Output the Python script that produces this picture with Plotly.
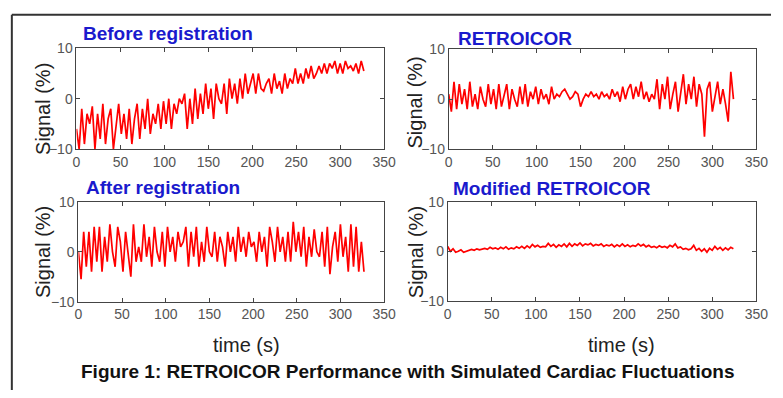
import plotly.graph_objects as go

# ---------------- data (~3 s sampling) ----------------
time_a = list(range(0, 330, 3))   # 0..327 s (panels 1 & 3)
time_b = list(range(0, 327, 3))   # 0..324 s (panels 2 & 4)

before_registration = [
    -6, -10, -2, -9, -3, -5, -1.5, -10, -3, -8, -1, -9, -4, -2, -10, -5, -1, -7, -3, -8,
    -2, -9, -4, -1, -8, -2, -6, 0, -7, -3, -5, -1, -6, -0.5, -5, 0, -6, -1, -3, 0,
    -1, 1, -6, 0, -5, 2, -4, 1, -3, 3, -2, 2, -4, 3, 0, -1, 3, -3, 4, 0,
    3, -1, 4, 0, 5, 1, 3, 5, 1, 5, 2, 1.5, 3, 4, 1, 5, 2, 3.5, 1, 5,
    2, 4, 3, 6, 3, 5, 3, 6, 4, 6.5, 4, 5, 6.5, 5, 7, 5, 7, 6, 7.5, 5,
    7, 5, 7.5, 6, 6.5, 5.5, 7, 5, 7.5, 5.5,
]

retroicor = [
    1, -2.5, 3.5, -2, 3, -1, 2, -2, 3.5, -1.5, 1, -2, 2.5, 0, -1.5, 3, -1, 2, -2, 3,
    -1.5, 1, 3, -2, 2, 0, -1.5, 2.5, -1, 3, -1.5, 1.5, 0, 2.5, -1, 2, 0, 1, -1, 2.5,
    0, 1, 0.5, 1.5, 2, 1, 0, 0.5, 1.5, 1, -1.5, 0, 1, 0.5, 1.5, 0.5, 1, 0, 1.5, 0.5,
    1, 0, 2, 0.5, 1.5, -0.5, 2.5, 0, 2, 3, 0, 2.5, 0.5, 3.5, 0, 1.5, -0.5, 1, 0, 4,
    -2, 3, 0, 4.5, -2, 1, 3.5, -2.5, 1, 5, -1, 3, 0, 4.5, -1.5, 3, 1, -7.5, 2, 3.5,
    -2.5, 1, 3.5, -1, 2, -1, -4.5, 5.5, 0,
]

after_registration = [
    0, -5.5, 4, -3, 4, -4, 5, -2, 5, -4, 3, -2, 5.5, 0, -3, 5, 2, -4, 4, 0,
    -5, 5.5, -2, 1, -2, 5.5, -1, 3, -3, 5, 0, -2, 4, -3, 5, 0, 3, -2, 4, 1,
    2, 5, -3, 4, -1, 5, -3, 2, -2, 5, 0, -1, 4, -2, 3, 1, -3, 4, 0, 3,
    -2, 5, 0, 3, -1, 4, 1, 2, -2, 4, 0, 3, -3, 5, 2, -2, 5, 0, 3, -2,
    4, -2, 6, 0, 4, -1, 5, -3, 3, -1, 4.5, 0, -1, 4, -3, 5, -4.5, 1, 4, -2,
    5.5, -1, 3, -4, 5.5, -3, 5, -4, 2, -4,
]

modified_retroicor = [
    1, 0, 0.5, -0.2, 0, 0.3, -0.2, 0, 0.2, 0.4, 0.2, 0.5, 0.3, 0.5, 0.6, 0.4, 0.8, 0.5, 0.7, 0.4,
    0.8, 0.5, 0.9, 0.4, 0.7, 0.5, 0.9, 0.6, 1.0, 0.6, 1.1, 0.7, 1.4, 0.9, 1.2, 0.8, 1.0, 0.9, 1.6, 1.0,
    1.4, 0.8, 1.3, 1.0, 1.5, 0.9, 1.6, 1.0, 1.5, 1.2, 1.7, 1.1, 1.5, 1.3, 1.6, 1.1, 1.4, 1.2, 1.5, 1.0,
    1.3, 1.1, 1.4, 0.9, 1.3, 1.0, 1.5, 1.0, 1.3, 0.9, 1.2, 1.0, 1.5, 1.1, 1.4, 0.9, 1.2, 0.8, 1.0, 0.7,
    1.1, 0.8, 1.0, 0.7, 1.2, 0.9, 1.5, 0.7, 0.9, 0.4, 0.6, 0.3, 0.5, 1.2, 0.2, 0.6, 0.0, 0.5, -0.2, 0.6,
    0.2, 1.0, 0.4, 0.8, 0.2, 0.7, 0.3, 0.8, 0.5,
]

panel_titles = ["Before registration", "RETROICOR", "After registration", "Modified RETROICOR"]
x_ticks = [0, 50, 100, 150, 200, 250, 300, 350]
y_ticks = [-10, 0, 10]
y_title = "Signal (%)"
x_title = "time (s)"
caption = "Figure 1: RETROICOR Performance with Simulated Cardiac Fluctuations"

# ---------------- layout helpers ----------------
W, H = 783, 398
def px(x):
    return x / W
def py(y):
    return 1 - y / H

# axes boxes in pixels: (left, right, top, bottom)
boxes = [(74, 388, 42, 147), (454, 768, 43, 147), (76, 388, 202, 306), (453, 768, 202, 305)]
series = [(time_a, before_registration), (time_b, retroicor),
          (time_a, after_registration), (time_b, modified_retroicor)]

fig = go.Figure()
layout = dict(
    width=W, height=H, margin=dict(l=0, r=0, t=0, b=0),
    paper_bgcolor="white", plot_bgcolor="white", showlegend=False,
)

axis_common = dict(
    showline=True, mirror="ticks", linecolor="#444", linewidth=1,
    ticks="inside", ticklen=4, tickcolor="#444", showgrid=False, zeroline=False,
    tickfont=dict(family="Liberation Sans Narrow, Arial, sans-serif", size=14, color="#555"),
)

for i, ((l, r, t, b), (xs, ys)) in enumerate(zip(boxes, series)):
    n = "" if i == 0 else str(i + 1)
    fig.add_trace(go.Scatter(x=xs, y=ys, mode="lines",
                             line=dict(color="#ff0000", width=1.7),
                             xaxis="x" + n, yaxis="y" + n, hoverinfo="skip"))
    layout["xaxis" + n] = dict(axis_common, domain=[px(l), px(r)], range=[0, 350],
                               tickvals=x_ticks, anchor="y" + n)
    layout["yaxis" + n] = dict(axis_common, domain=[py(b), py(t)], range=[-10, 10],
                               tickvals=y_ticks, anchor="x" + n, ticklabelstandoff=0)

fig.update_layout(**layout)

title_font = dict(family="Arial, Liberation Sans, sans-serif", size=19, color="#1a1acd")
label_font = dict(family="Arial, Liberation Sans, sans-serif", size=20, color="#222")

title_pos = [(79, 27), (461, 32), (82, 187), (456, 188)]
for (x, y), txt in zip(title_pos, panel_titles):
    fig.add_annotation(x=px(x), y=py(y), xref="paper", yref="paper", text="<b>%s</b>" % txt,
                       showarrow=False, xanchor="left", yanchor="middle", font=title_font)

for (x, y) in [(40, 105), (420, 98), (40, 254), (420, 254)]:
    fig.add_annotation(x=px(x), y=py(y), xref="paper", yref="paper", text=y_title,
                       textangle=-90, showarrow=False, xanchor="center", yanchor="middle",
                       font=label_font)

for x in [248, 630]:
    fig.add_annotation(x=px(x), y=py(351), xref="paper", yref="paper", text=x_title,
                       showarrow=False, xanchor="center", yanchor="middle", font=label_font)

fig.add_annotation(x=px(412), y=py(379), xref="paper", yref="paper", text="<b>%s</b>" % caption,
                   showarrow=False, xanchor="center", yanchor="middle",
                   font=dict(family="Arial, Liberation Sans, sans-serif", size=19, color="#111"))

# frame lines of the scanned figure (top and left edges only)
for x0, y0, x1, y1 in [(8, 7, 783, 7), (8, 7, 8, 398)]:
    fig.add_shape(type="line", xref="paper", yref="paper", x0=px(x0), y0=py(y0),
                  x1=px(x1), y1=py(y1), line=dict(color="#333", width=2))

fig.write_html("out.html")
